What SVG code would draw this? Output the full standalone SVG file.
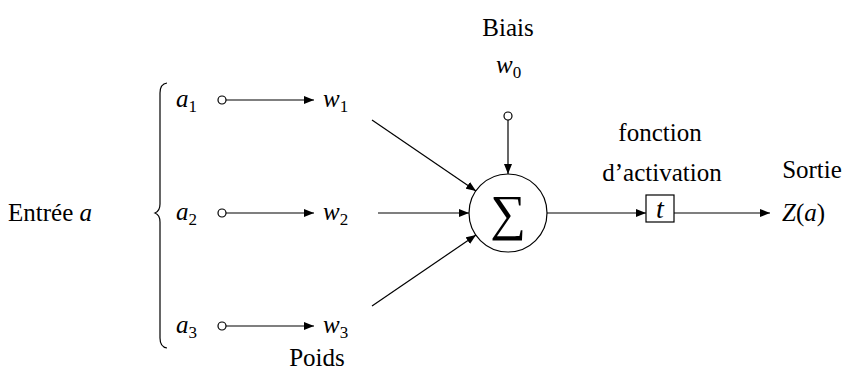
<svg xmlns="http://www.w3.org/2000/svg" width="857" height="385" viewBox="0 0 857 385">
<defs>
<marker id="ah" viewBox="0 0 10 8" refX="10" refY="4" markerWidth="10" markerHeight="8" markerUnits="userSpaceOnUse" orient="auto">
<path d="M0,0 L10,4 L0,8 z" fill="#000"/>
</marker>
</defs>
<style>
text{font-family:"Liberation Serif","DejaVu Serif",serif;font-size:25px;fill:#000}
.m{font-style:italic}
.s{font-size:17px;font-style:normal}
.l{stroke:#000;stroke-width:1.2;fill:none}
.c{stroke:#000;stroke-width:1.2;fill:#fff}
</style>
<rect width="857" height="385" fill="#fff"/>
<g id="entree"><text x="8" y="221">Entrée <tspan class="m">a</tspan></text></g>
<g id="brace"><path class="l" d="M167,83 Q160,84 160,93 L160,204 Q160,211 155,213 Q160,215 160,222 L160,338 Q160,347 167,348"/></g>
<g id="a1"><text class="m" x="176" y="107">a<tspan class="s" dy="5">1</tspan></text></g>
<g id="a2"><text class="m" x="176" y="220">a<tspan class="s" dy="5">2</tspan></text></g>
<g id="a3"><text class="m" x="176" y="333">a<tspan class="s" dy="5">3</tspan></text></g>
<g id="w1"><text class="m" x="323" y="107">w<tspan class="s" dy="5">1</tspan></text></g>
<g id="w2"><text class="m" x="323" y="220">w<tspan class="s" dy="5">2</tspan></text></g>
<g id="w3"><text class="m" x="323" y="333">w<tspan class="s" dy="5">3</tspan></text></g>
<g id="poids"><text x="317" y="366" text-anchor="middle">Poids</text></g>
<g id="biais"><text x="508" y="36" text-anchor="middle">Biais</text><text class="m" x="496" y="73">w<tspan class="s" dy="5">0</tspan></text></g>
<g id="sigma"><circle class="c" cx="508" cy="213" r="39"/><text x="508" y="230" text-anchor="middle" style="font-size:50px">∑</text></g>
<g id="activation"><text x="660" y="141" text-anchor="middle">fonction</text><text x="662" y="181" text-anchor="middle">d’activation</text><rect class="c" x="646" y="195" width="28" height="27"/><text class="m" x="660" y="218" text-anchor="middle" style="font-size:28px">t</text></g>
<g id="sortie"><text x="812" y="178" text-anchor="middle">Sortie</text><text x="782" y="221"><tspan class="m">Z</tspan>(<tspan class="m">a</tspan>)</text></g>
<g id="connectors">
<line class="l" x1="226" y1="100" x2="314" y2="100" marker-end="url(#ah)"/>
<line class="l" x1="226" y1="213" x2="314" y2="213" marker-end="url(#ah)"/>
<line class="l" x1="226" y1="326" x2="314" y2="326" marker-end="url(#ah)"/>
<line class="l" x1="372" y1="120" x2="476" y2="191" marker-end="url(#ah)"/>
<line class="l" x1="378" y1="213" x2="469" y2="213" marker-end="url(#ah)"/>
<line class="l" x1="372" y1="306" x2="476" y2="235" marker-end="url(#ah)"/>
<line class="l" x1="508" y1="120" x2="508" y2="174" marker-end="url(#ah)"/>
<line class="l" x1="547" y1="213" x2="646" y2="213" marker-end="url(#ah)"/>
<line class="l" x1="674" y1="213" x2="770" y2="213" marker-end="url(#ah)"/>
<circle class="c" cx="222" cy="100" r="4"/>
<circle class="c" cx="222" cy="213" r="4"/>
<circle class="c" cx="222" cy="326" r="4"/>
<circle class="c" cx="508" cy="116" r="4"/>
</g>
</svg>
